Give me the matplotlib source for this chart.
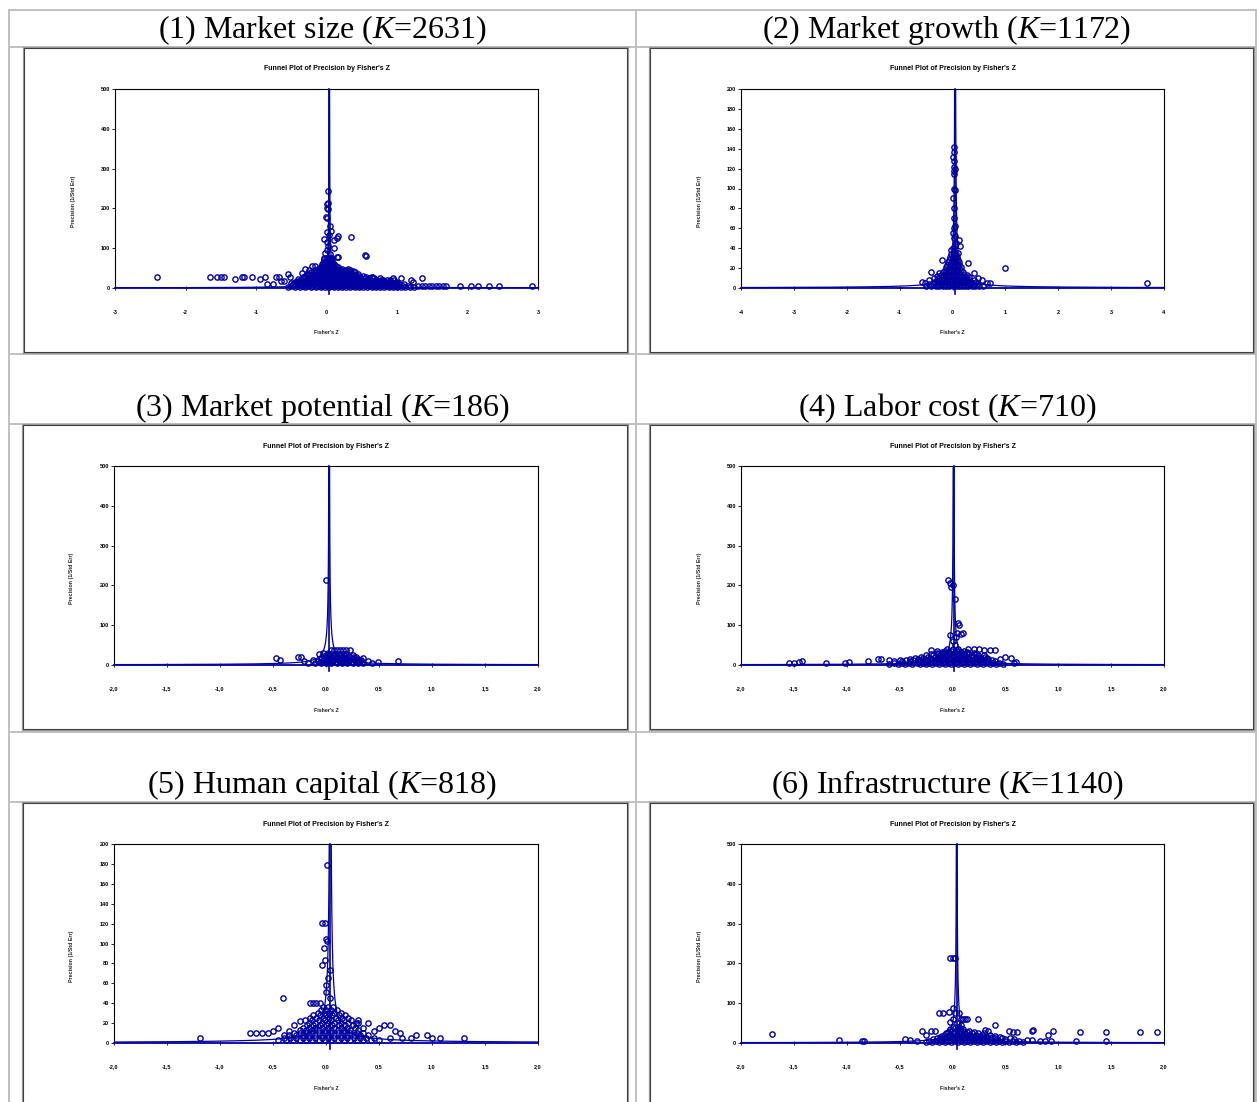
import numpy as np
import matplotlib.pyplot as plt
from matplotlib.patches import Rectangle

# funnel plots of precision by fisher's z, six panels in a table

W, H = 1257, 1102
blue = '#0000A0'

plt.rcParams['font.family'] = ['Liberation Sans', 'DejaVu Sans']
plt.rcParams['mathtext.fontset'] = 'custom'
plt.rcParams['mathtext.rm'] = 'Liberation Serif'
plt.rcParams['mathtext.it'] = 'Liberation Serif:italic'

titles = ['(1) Market size ($K$=2631)', '(2) Market growth ($K$=1172)',
          '(3) Market potential ($K$=186)', '(4) Labor cost ($K$=710)',
          '(5) Human capital ($K$=818)', '(6) Infrastructure ($K$=1140)']

# pooled effect (where the vertical line sits)
means = [0.04, 0.05, 0.03, 0.01, 0.04, 0.04]

# axis ranges and ticks
x_ranges = [(-3, 3), (-4, 4), (-2, 2), (-2, 2), (-2, 2), (-2, 2)]
y_max = [500, 200, 500, 500, 200, 500]
xticks_int3 = [-3, -2, -1, 0, 1, 2, 3]
xticks_int4 = [-4, -3, -2, -1, 0, 1, 2, 3, 4]
xticks_half = [-2.0, -1.5, -1.0, -0.5, 0.0, 0.5, 1.0, 1.5, 2.0]
xlabels_half = ['-2,0', '-1,5', '-1,0', '-0,5', '0,0', '0,5', '1,0', '1,5', '2,0']
yticks_500 = [0, 100, 200, 300, 400, 500]
yticks_200 = [0, 20, 40, 60, 80, 100, 120, 140, 160, 180, 200]

# ---- panel 1: market size ----
p1_points = [(-2.41, 28), (-1.65, 28), (-1.55, 28), (-1.5, 28), (-1.45, 28), (-1.3, 23),
             (-1.2, 28), (-1.17, 28), (-1.05, 28), (-0.95, 22), (-0.87, 28), (-0.84, 10),
             (-0.76, 10), (-0.72, 28), (-0.68, 28), (-0.65, 17), (-0.6, 18), (-0.55, 34),
             (-0.52, 28), (-0.5, 12), (-0.45, 15), (-0.4, 22), (-0.35, 38), (-0.3, 48),
             (-0.25, 45), (-0.2, 55), (-0.17, 55),
             (0.02, 243), (0.02, 213), (0.01, 212), (0.0, 200), (0.02, 198), (-0.01, 178),
             (0.01, 175), (0.05, 155), (0.0, 140), (0.07, 143), (0.03, 133), (-0.03, 122),
             (0.0, 115), (0.02, 105), (0.0, 95), (-0.02, 88), (0.05, 85), (0.1, 120),
             (0.15, 125), (0.17, 130), (0.35, 128), (0.08, 75), (0.15, 78), (0.17, 78),
             (0.55, 82), (0.56, 80), (0.1, 100),
             (1.05, 25), (1.35, 25), (1.2, 20), (1.22, 15), (1.3, 5), (1.35, 5), (1.4, 5),
             (1.45, 5), (1.5, 5), (1.55, 5), (1.6, 5), (1.65, 5), (1.7, 5), (1.9, 5),
             (2.05, 5), (2.15, 5), (2.3, 5), (2.45, 5), (2.92, 4), (0.95, 25), (0.9, 20),
             (0.8, 20), (0.7, 20), (0.65, 28), (0.6, 20)]
p1_rows_y = [3, 6, 9, 12, 15, 18, 21, 24, 27, 30, 33, 36, 39, 42, 45, 48, 52, 56, 60, 64,
             68, 72, 76]
p1_rows_x = [[-0.55, -0.45, -0.38, -0.3, -0.22, -0.15, -0.08, -0.02, 0.04, 0.1, 0.16, 0.22, 0.28,
              0.34, 0.4, 0.46, 0.52, 0.58, 0.64, 0.7, 0.76, 0.82, 0.88, 0.94, 1.0, 1.06, 1.12,
              1.18, 1.24],
             [-0.5, -0.42, -0.34, -0.27, -0.2, -0.13, -0.06, 0.0, 0.06, 0.12, 0.18, 0.24, 0.3,
              0.36, 0.42, 0.48, 0.54, 0.6, 0.66, 0.72, 0.78, 0.84, 0.9, 0.96, 1.02, 1.08, 1.15],
             [-0.48, -0.4, -0.32, -0.25, -0.18, -0.11, -0.05, 0.01, 0.07, 0.13, 0.19, 0.25, 0.31,
              0.37, 0.43, 0.49, 0.55, 0.61, 0.67, 0.73, 0.79, 0.85, 0.91, 0.97, 1.03, 1.1],
             [-0.45, -0.37, -0.3, -0.23, -0.16, -0.09, -0.03, 0.03, 0.09, 0.15, 0.21, 0.27, 0.33,
              0.39, 0.45, 0.51, 0.57, 0.63, 0.69, 0.75, 0.81, 0.87, 0.94, 1.0],
             [-0.42, -0.35, -0.28, -0.21, -0.14, -0.08, -0.02, 0.04, 0.1, 0.16, 0.22, 0.28, 0.34,
              0.4, 0.46, 0.52, 0.58, 0.64, 0.7, 0.76, 0.82, 0.9, 0.98],
             [-0.4, -0.32, -0.25, -0.18, -0.12, -0.06, 0.0, 0.06, 0.12, 0.18, 0.24, 0.3, 0.36,
              0.42, 0.48, 0.54, 0.6, 0.67, 0.74, 0.82, 0.9],
             [-0.36, -0.29, -0.22, -0.15, -0.09, -0.03, 0.03, 0.09, 0.15, 0.21, 0.27, 0.33, 0.39,
              0.45, 0.51, 0.57, 0.63, 0.7, 0.78, 0.86, 0.96],
             [-0.34, -0.27, -0.2, -0.13, -0.06, 0.0, 0.06, 0.12, 0.18, 0.24, 0.3, 0.36, 0.42,
              0.48, 0.54, 0.6, 0.68, 0.76],
             [-0.33, -0.25, -0.18, -0.12, -0.06, 0.0, 0.06, 0.12, 0.18, 0.24, 0.3, 0.36, 0.42,
              0.48, 0.56, 0.64],
             [-0.3, -0.22, -0.15, -0.09, -0.03, 0.03, 0.09, 0.15, 0.21, 0.27, 0.33, 0.39, 0.45,
              0.52],
             [-0.28, -0.2, -0.13, -0.07, -0.01, 0.05, 0.11, 0.17, 0.23, 0.29, 0.35, 0.41],
             [-0.25, -0.17, -0.1, -0.04, 0.02, 0.08, 0.14, 0.2, 0.26, 0.32, 0.38, 0.44],
             [-0.22, -0.15, -0.08, -0.02, 0.04, 0.1, 0.16, 0.22, 0.28, 0.34, 0.4],
             [-0.18, -0.11, -0.05, 0.01, 0.07, 0.13, 0.19, 0.25, 0.31, 0.37],
             [-0.15, -0.08, -0.03, 0.02, 0.07, 0.12, 0.2, 0.28, 0.33],
             [-0.12, -0.05, 0.0, 0.04, 0.09, 0.15, 0.22, 0.3],
             [-0.08, -0.03, 0.01, 0.05, 0.1, 0.16],
             [-0.07, -0.02, 0.03, 0.08, 0.13],
             [-0.06, -0.02, 0.02, 0.06, 0.1],
             [-0.05, 0.0, 0.04, 0.08],
             [-0.04, 0.0, 0.04, 0.08],
             [-0.03, 0.02, 0.06],
             [-0.03, 0.01, 0.05]]

# ---- panel 2: market growth ----
p2_points = [(0.02, 142), (0.03, 137), (0.01, 132), (0.03, 128), (0.02, 122), (0.04, 120),
             (0.02, 118), (0.03, 115), (0.02, 100), (0.04, 98), (0.01, 90), (0.03, 80),
             (0.02, 70), (0.05, 62), (0.03, 60), (0.01, 55), (0.05, 52), (0.02, 50),
             (0.07, 45), (0.04, 42), (-0.02, 38), (0.15, 42), (0.1, 35), (0.12, 48),
             (0.0, 40), (0.05, 44), (0.03, 36),
             (-0.58, 6), (-0.52, 5), (-0.45, 8), (-0.4, 16), (-0.35, 10), (-0.3, 12),
             (-0.25, 15), (-0.2, 28), (0.3, 25), (0.4, 15), (0.48, 10), (0.55, 8),
             (0.65, 5), (0.7, 5), (0.99, 20), (3.67, 5)]
p2_rows_y = [2, 4, 6, 8, 11, 13, 16, 18, 21, 23, 26, 28, 31, 34]
p2_rows_x = [[-0.5, -0.4, -0.32, -0.25, -0.18, -0.12, -0.06, 0.0, 0.06, 0.12, 0.18, 0.24, 0.3,
              0.36, 0.42, 0.5, 0.58],
             [-0.45, -0.36, -0.28, -0.22, -0.15, -0.09, -0.03, 0.03, 0.09, 0.15, 0.21, 0.27,
              0.33, 0.4, 0.47],
             [-0.35, -0.27, -0.2, -0.14, -0.08, -0.02, 0.04, 0.1, 0.16, 0.22, 0.28, 0.35, 0.44],
             [-0.3, -0.23, -0.17, -0.11, -0.05, 0.01, 0.07, 0.13, 0.19, 0.25, 0.32, 0.4],
             [-0.25, -0.18, -0.12, -0.06, 0.0, 0.06, 0.12, 0.18, 0.25, 0.32],
             [-0.22, -0.15, -0.09, -0.03, 0.03, 0.09, 0.15, 0.22, 0.28],
             [-0.18, -0.12, -0.06, 0.0, 0.06, 0.12, 0.2],
             [-0.15, -0.09, -0.03, 0.03, 0.09, 0.16],
             [-0.12, -0.06, 0.0, 0.05, 0.1, 0.16],
             [-0.1, -0.04, 0.02, 0.08, 0.13],
             [-0.08, -0.03, 0.02, 0.07, 0.12],
             [-0.06, 0.0, 0.04, 0.1],
             [-0.05, 0.0, 0.05, 0.09],
             [-0.03, 0.02, 0.06]]

# ---- panel 3: market potential ----
p3_points = [(0.0, 213), (-0.47, 18), (-0.43, 12), (-0.26, 21), (-0.24, 20), (-0.21, 10),
             (-0.17, 5), (-0.12, 12), (-0.07, 27), (-0.03, 30), (0.05, 38), (0.08, 38),
             (0.1, 38), (0.13, 38), (0.16, 38), (0.19, 38), (0.23, 38), (0.4, 9), (0.43, 5),
             (0.49, 8), (0.68, 11), (0.3, 15), (0.33, 12), (0.35, 18), (0.25, 25), (0.28, 20),
             (0.02, 30), (0.0, 25)]
p3_rows_y = [4, 7, 10, 13, 16, 19, 22, 25, 28]
p3_rows_x = [[-0.1, -0.05, 0.0, 0.05, 0.1, 0.15, 0.2, 0.25, 0.3, 0.35],
             [-0.06, -0.01, 0.04, 0.09, 0.14, 0.19, 0.24, 0.29, 0.34],
             [-0.08, -0.03, 0.02, 0.07, 0.12, 0.17, 0.22, 0.27, 0.32],
             [-0.03, 0.02, 0.07, 0.12, 0.17, 0.22, 0.28],
             [-0.05, 0.0, 0.05, 0.1, 0.15, 0.2, 0.25],
             [0.0, 0.05, 0.1, 0.15, 0.2, 0.26],
             [-0.02, 0.03, 0.08, 0.13, 0.18, 0.22],
             [0.02, 0.07, 0.12, 0.17],
             [0.04, 0.09, 0.14, 0.19]]

# ---- panel 4: labor cost ----
p4_points = [(-0.04, 213), (-0.02, 205), (0.0, 200), (-0.01, 195), (0.02, 165), (0.05, 105),
             (0.06, 100), (0.04, 80), (0.1, 80), (0.08, 78), (-0.02, 75), (0.03, 70),
             (0.0, 60), (0.02, 50),
             (-1.55, 5), (-1.5, 5), (-1.45, 8), (-1.42, 10), (-1.2, 5), (-1.02, 5), (-0.98, 8),
             (-0.8, 10), (-0.7, 14), (-0.68, 15), (-0.6, 12), (-0.55, 10), (-0.5, 12),
             (0.55, 18), (0.58, 5), (0.6, 8), (0.5, 20), (0.45, 15), (0.4, 38), (0.35, 38),
             (0.3, 38), (0.25, 40), (0.2, 40), (0.15, 40), (-0.2, 38), (-0.15, 35)]
p4_rows_y = [3, 6, 9, 12, 15, 18, 21, 24, 27, 30, 33, 36, 40]
p4_rows_x = [[-0.6, -0.52, -0.45, -0.38, -0.31, -0.25, -0.19, -0.13, -0.07, -0.01, 0.05, 0.11,
              0.17, 0.23, 0.29, 0.35, 0.41, 0.48],
             [-0.55, -0.48, -0.41, -0.34, -0.28, -0.22, -0.16, -0.1, -0.04, 0.02, 0.08, 0.14,
              0.2, 0.26, 0.32, 0.38, 0.44],
             [-0.48, -0.4, -0.33, -0.26, -0.2, -0.14, -0.08, -0.02, 0.04, 0.1, 0.16, 0.22, 0.28,
              0.34, 0.4],
             [-0.44, -0.37, -0.3, -0.23, -0.17, -0.11, -0.05, 0.01, 0.07, 0.13, 0.19, 0.25,
              0.31, 0.37],
             [-0.4, -0.33, -0.26, -0.2, -0.14, -0.08, -0.02, 0.04, 0.1, 0.16, 0.22, 0.28, 0.34],
             [-0.35, -0.28, -0.21, -0.15, -0.09, -0.03, 0.03, 0.09, 0.15, 0.21, 0.27, 0.33],
             [-0.3, -0.23, -0.17, -0.11, -0.05, 0.01, 0.07, 0.13, 0.19, 0.25, 0.31],
             [-0.25, -0.18, -0.12, -0.06, 0.0, 0.06, 0.12, 0.18, 0.24, 0.3],
             [-0.2, -0.14, -0.08, -0.02, 0.04, 0.1, 0.16, 0.22],
             [-0.15, -0.09, -0.03, 0.03, 0.09, 0.15, 0.2],
             [-0.1, -0.04, 0.02, 0.08, 0.14],
             [-0.07, -0.01, 0.05, 0.11],
             [-0.05, 0.0, 0.05]]

# ---- panel 5: human capital ----
p5_points = [(0.01, 179), (-0.04, 121), (-0.01, 121), (0.0, 105), (0.01, 103), (-0.01, 83),
             (-0.04, 78), (0.04, 73), (0.0, 58), (0.0, 51), (0.04, 45), (0.02, 65), (-0.02, 95),
             (-0.41, 45), (-0.15, 40), (-0.12, 40), (-0.09, 40), (-0.06, 40), (-1.19, 5),
             (-0.72, 10), (-0.66, 10), (-0.6, 10), (-0.55, 10), (-0.5, 12), (-0.45, 15),
             (-0.4, 8), (-0.35, 12), (-0.3, 18), (-0.25, 22),
             (0.3, 20), (0.35, 15), (0.5, 15), (0.55, 18), (0.6, 18), (0.7, 10), (0.72, 5),
             (0.8, 5), (0.95, 8), (1.0, 5), (1.08, 5), (1.3, 5), (0.45, 12), (0.4, 20),
             (0.65, 12), (0.85, 8), (0.6, 5)]
p5_rows_y = [3, 5.5, 8, 10.5, 13, 15.5, 18, 20.5, 23, 25.5, 28, 30.5, 33, 36]
p5_rows_x = [[-0.45, -0.38, -0.31, -0.25, -0.19, -0.13, -0.07, -0.01, 0.05, 0.11, 0.17, 0.23,
              0.29, 0.35, 0.42, 0.5],
             [-0.4, -0.34, -0.28, -0.22, -0.16, -0.1, -0.04, 0.02, 0.08, 0.14, 0.2, 0.26, 0.32,
              0.38, 0.45],
             [-0.35, -0.28, -0.22, -0.16, -0.1, -0.04, 0.02, 0.08, 0.14, 0.2, 0.26, 0.32, 0.4],
             [-0.3, -0.25, -0.19, -0.13, -0.07, -0.01, 0.05, 0.11, 0.17, 0.23, 0.29, 0.35],
             [-0.25, -0.19, -0.13, -0.07, -0.01, 0.05, 0.11, 0.17, 0.23, 0.3],
             [-0.22, -0.16, -0.1, -0.04, 0.02, 0.08, 0.14, 0.2, 0.27],
             [-0.18, -0.12, -0.06, 0.0, 0.06, 0.12, 0.18, 0.25],
             [-0.16, -0.1, -0.04, 0.02, 0.08, 0.14, 0.21, 0.28],
             [-0.2, -0.13, -0.07, -0.01, 0.05, 0.11, 0.17, 0.24, 0.3],
             [-0.15, -0.09, -0.03, 0.03, 0.09, 0.15, 0.21],
             [-0.12, -0.06, 0.0, 0.06, 0.12, 0.18],
             [-0.08, -0.02, 0.03, 0.08, 0.14],
             [-0.05, 0.0, 0.05, 0.1],
             [-0.03, 0.02, 0.07]]

# ---- panel 6: infrastructure ----
p6_points = [(-1.71, 23), (-1.07, 7), (-0.86, 5), (-0.84, 5), (-0.45, 11), (-0.4, 7),
             (-0.34, 5), (-0.29, 29), (-0.25, 19), (-0.2, 29), (-0.17, 29), (-0.13, 76),
             (-0.09, 76), (0.0, 88), (0.02, 76), (0.06, 76), (0.08, 61), (0.1, 61), (0.12, 61),
             (0.14, 61), (0.0, 61), (0.24, 61), (0.4, 44), (0.31, 33), (0.34, 30), (0.53, 30),
             (0.57, 27), (0.61, 27), (0.75, 30), (0.76, 32), (0.95, 30), (1.21, 27),
             (1.45, 27), (1.77, 27), (1.93, 27), (0.9, 21), (0.7, 8), (0.75, 8), (0.83, 5),
             (0.87, 5), (0.93, 5), (1.17, 5), (1.45, 5), (0.0, 213), (-0.02, 213),
             (0.02, 213), (-0.03, 78), (0.04, 50), (0.08, 46), (-0.02, 52)]
p6_rows_y = [3, 6, 9, 12, 15, 18, 21, 24, 27, 30, 34, 38, 41]
p6_rows_x = [[-0.25, -0.19, -0.13, -0.07, -0.01, 0.05, 0.11, 0.17, 0.23, 0.29, 0.35, 0.41,
              0.47, 0.53, 0.6, 0.67],
             [-0.22, -0.16, -0.1, -0.04, 0.02, 0.08, 0.14, 0.2, 0.26, 0.32, 0.38, 0.44, 0.5,
              0.57, 0.63],
             [-0.18, -0.12, -0.06, 0.0, 0.06, 0.12, 0.18, 0.24, 0.3, 0.36, 0.42, 0.5, 0.58],
             [-0.15, -0.09, -0.03, 0.03, 0.09, 0.15, 0.21, 0.27, 0.33, 0.4, 0.47, 0.54],
             [-0.12, -0.06, 0.0, 0.06, 0.12, 0.18, 0.24, 0.3, 0.37, 0.45],
             [-0.1, -0.04, 0.02, 0.08, 0.14, 0.2, 0.26, 0.32, 0.4],
             [-0.08, -0.02, 0.04, 0.1, 0.16, 0.22, 0.28, 0.35],
             [-0.06, 0.0, 0.06, 0.12, 0.18, 0.24, 0.3],
             [-0.04, 0.02, 0.08, 0.14, 0.2],
             [-0.02, 0.04, 0.1, 0.16],
             [-0.02, 0.04, 0.1],
             [0.02, 0.07],
             [0.0, 0.05]]

all_points = [p1_points, p2_points, p3_points, p4_points, p5_points, p6_points]
all_rows_y = [p1_rows_y, p2_rows_y, p3_rows_y, p4_rows_y, p5_rows_y, p6_rows_y]
all_rows_x = [p1_rows_x, p2_rows_x, p3_rows_x, p4_rows_x, p5_rows_x, p6_rows_x]

# pixel layout of the plot areas (left, top, right, bottom)
boxes = [(115, 89, 538, 288), (741, 89, 1164, 288),
         (114, 466, 538, 665), (741, 466, 1164, 665),
         (114, 844, 538, 1043), (741, 844, 1164, 1043)]
title_base = [38, 38, 416, 416, 793, 793]

fig = plt.figure(figsize=(W / 100, H / 100), dpi=100)

# background layer in pixel coords for the table
bg = fig.add_axes([0, 0, 1, 1])
bg.set_xlim(0, W)
bg.set_ylim(H, 0)
bg.axis('off')

grey = '#c0c0c0'
for y in [10, 47, 354, 424, 732, 802]:
    bg.plot([9, W], [y, y], color=grey, lw=1.4)
for x in [9, 636, 1256]:
    bg.plot([x, x], [10, H], color=grey, lw=1.4)

for i in range(6):
    l, t, r, b = boxes[i]
    # chart frame with a little shadow
    bg.add_patch(Rectangle((l - 91, t - 41), (r - l) + 181, (b - t) + 106,
                           facecolor='white', edgecolor='#9a9a9a', lw=1.6, zorder=2))
    bg.add_patch(Rectangle((l - 91, t - 41), (r - l) + 180, (b - t) + 105,
                           facecolor='white', edgecolor='#404040', lw=0.8, zorder=3))
    cx = 322 if i % 2 == 0 else 947
    bg.text(cx, title_base[i], titles[i], fontsize=23, family='Liberation Serif',
            ha='center', va='baseline', zorder=4)
    mid = (l + r) / 2
    bg.text(mid, t - 20, "Funnel Plot of Precision by Fisher's Z", fontsize=5,
            fontweight='bold', ha='center', va='center', zorder=4)
    bg.text(l - 42, t + 112, 'Precision (1/Std Err)', fontsize=3.8, fontweight='bold',
            rotation=90, ha='center', va='center', color='#222222', zorder=4)
    bg.text(mid, b + 45, "Fisher's Z", fontsize=3.8, fontweight='bold',
            ha='center', va='center', color='#222222', zorder=4)

for i in range(6):
    l, t, r, b = boxes[i]
    ax = fig.add_axes([l / W, 1 - b / H, (r - l) / W, (b - t) / H])
    x0, x1 = x_ranges[i]
    ymax = y_max[i]
    ax.set_xlim(x0, x1)
    ax.set_ylim(0, ymax)

    if x1 == 3:
        ax.set_xticks(xticks_int3)
        ax.set_xticklabels([str(v) for v in xticks_int3], fontsize=4, fontweight='bold')
    elif x1 == 4:
        ax.set_xticks(xticks_int4)
        ax.set_xticklabels([str(v) for v in xticks_int4], fontsize=4, fontweight='bold')
    else:
        ax.set_xticks(xticks_half)
        ax.set_xticklabels(xlabels_half, fontsize=4, fontweight='bold')
    yt = yticks_500 if ymax == 500 else yticks_200
    ax.set_yticks(yt)
    ax.set_yticklabels([str(v) for v in yt], fontsize=4, fontweight='bold')
    ax.tick_params(axis='y', direction='out', length=2, width=0.6, pad=1.5)
    ax.tick_params(axis='x', direction='inout', length=3, width=0.6, pad=14, colors='black')

    for s in ['left', 'top', 'right']:
        ax.spines[s].set_linewidth(0.8)
        ax.spines[s].set_color('black')
    ax.spines['bottom'].set_color(blue)
    ax.spines['bottom'].set_linewidth(1.3)

    # funnel lines from the pooled estimate
    m = means[i]
    prec = np.geomspace(0.05, ymax, 400)
    ax.plot(m - 1.96 / prec, prec, color=blue, lw=0.9, zorder=3)
    ax.plot(m + 1.96 / prec, prec, color=blue, lw=0.9, zorder=3)
    ax.plot([m, m], [-ymax * 0.03, ymax], color=blue, lw=1.2, clip_on=False, zorder=3)

    # studies
    xs = [p[0] for p in all_points[i]]
    ys = [p[1] for p in all_points[i]]
    for yy, row in zip(all_rows_y[i], all_rows_x[i]):
        xs += row
        ys += [yy] * len(row)
    ax.plot(xs, ys, 'o', mfc='none', mec=blue, ms=3.8, mew=1.0, zorder=4, clip_on=False)

plt.savefig('out.png', dpi=100)
